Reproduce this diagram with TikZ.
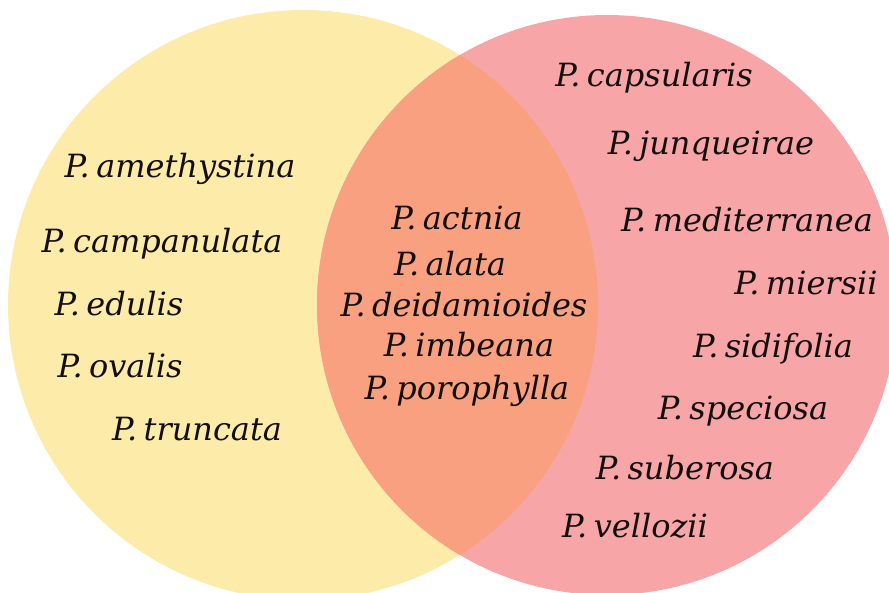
\documentclass[tikz,border=0pt]{standalone}
\usepackage{fontspec}
\setmainfont{DejaVu Serif}
\definecolor{yellowc}{HTML}{FDEBA9}
\definecolor{pinkc}{HTML}{F8A5A7}
\definecolor{orangec}{HTML}{F8A07F}
\definecolor{textc}{HTML}{140F0F}
\newcommand\lblfont{\itshape\fontsize{32}{35}\selectfont\spaceskip 0.2em\relax}
\begin{document}
\begin{tikzpicture}[x=1pt,y=-1pt,
  lbl/.style={font=\lblfont, text=textc, anchor=base, inner sep=0pt}]
\useasboundingbox (0,0) rectangle (889,592);
\fill[yellowc] (303,305) circle[radius=295pt];
\fill[pinkc] (607,305) circle[radius=290pt];
\begin{scope}
  \clip (303,305) circle[radius=295pt];
  \fill[orangec] (607,305) circle[radius=290pt];
\end{scope}
% left
\node[lbl] (amethystina) at (180,177) {P. amethystina};
\node[lbl] (campanulata) at (162,252) {P. campanulata};
\node[lbl] (edulis) at (119,315) {P. edulis};
\node[lbl] (ovalis) at (120,377) {P. ovalis};
\node[lbl] (truncata) at (197,440) {P. truncata};
% middle
\node[lbl] (actnia) at (457,229) {P. actnia};
\node[lbl] (alata) at (450,275) {P. alata};
\node[lbl] (deidamioides) at (464,316) {P. deidamioides};
\node[lbl] (imbeana) at (469,356) {P. imbeana};
\node[lbl] (porophylla) at (467,399) {P. porophylla};
% right
\node[lbl] (capsularis) at (654,86) {P. capsularis};
\node[lbl] (junqueirae) at (711,154) {P. junqueirae};
\node[lbl] (mediterranea) at (747,231) {P. mediterranea};
\node[lbl] (miersii) at (806,294) {P. miersii};
\node[lbl] (sidifolia) at (773,357) {P. sidifolia};
\node[lbl] (speciosa) at (743,419) {P. speciosa};
\node[lbl] (suberosa) at (685,479) {P. suberosa};
\node[lbl] (vellozii) at (635,537) {P. vellozii};
\end{tikzpicture}
\end{document}
